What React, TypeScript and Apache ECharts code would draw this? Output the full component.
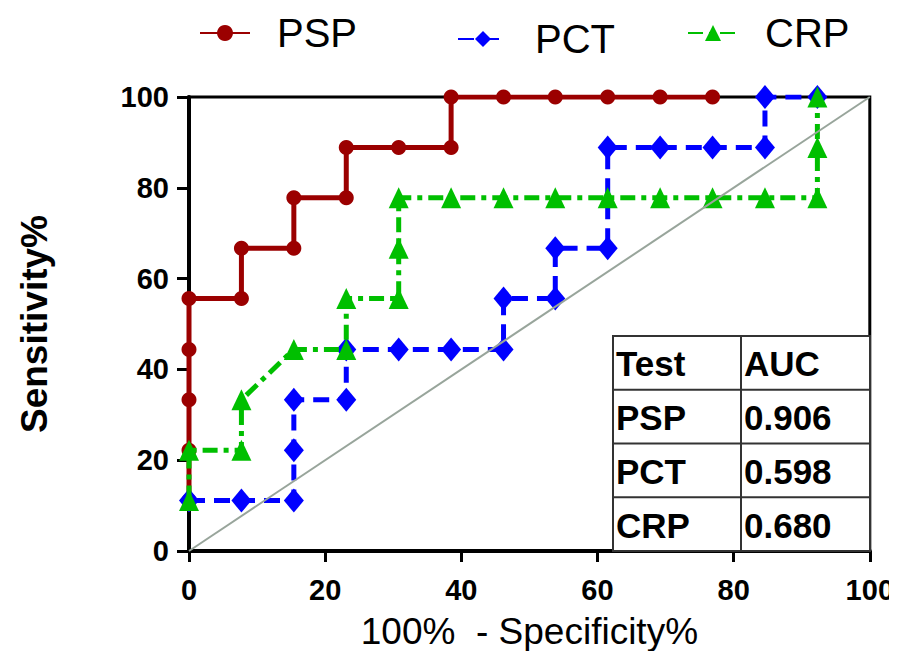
import React, { useEffect, useRef } from "react";
import * as echarts from "echarts";

// 100% - Specificity% (x) and Sensitivity% (y) for each ROC curve
const pspX = [0, 0, 0, 0, 0, 7.7, 7.7, 15.4, 15.4, 23.1, 23.1, 30.8, 38.5, 38.5, 46.2, 53.8, 61.5, 69.2, 76.9];
const pspY = [11.1, 22.2, 33.3, 44.4, 55.6, 55.6, 66.7, 66.7, 77.8, 77.8, 88.9, 88.9, 88.9, 100, 100, 100, 100, 100, 100];

const pctX = [0, 7.7, 15.4, 15.4, 15.4, 23.1, 23.1, 30.8, 38.5, 46.2, 46.2, 53.8, 53.8, 61.5, 61.5, 69.2, 76.9, 84.6, 84.6, 92.3];
const pctY = [11.1, 11.1, 11.1, 22.2, 33.3, 33.3, 44.4, 44.4, 44.4, 44.4, 55.6, 55.6, 66.7, 66.7, 88.9, 88.9, 88.9, 88.9, 100, 100];

const crpX = [0, 0, 7.7, 7.7, 15.4, 23.1, 23.1, 30.8, 30.8, 30.8, 38.5, 46.2, 53.8, 61.5, 69.2, 76.9, 84.6, 92.3, 92.3, 92.3];
const crpY = [11.1, 22.2, 22.2, 33.3, 44.4, 44.4, 55.6, 55.6, 66.7, 77.8, 77.8, 77.8, 77.8, 77.8, 77.8, 77.8, 77.8, 77.8, 88.9, 100];

const refX = [0, 100];
const refY = [0, 100];

const tableHeader = ["Test", "AUC"];
const tableTests = ["PSP", "PCT", "CRP"];
const tableAuc = ["0.906", "0.598", "0.680"];

const zip = (xs: number[], ys: number[]) => xs.map((x, i) => [x, ys[i]]);

const FONT = "'Liberation Sans', Arial, sans-serif";

export default function App() {
  const ref = useRef<HTMLDivElement>(null);
  useEffect(() => {
    if (!ref.current) return;
    const chart = echarts.init(ref.current, null, { renderer: "svg" });

    // table graphic
    const tLeft = 613, tRight = 870, tTop = 336, tBottom = 551, tCol = 741;
    const rowH = (tBottom - tTop) / 4;
    const tableEls: any[] = [];
    tableEls.push({
      type: "rect",
      shape: { x: tLeft, y: tTop, width: tRight - tLeft, height: tBottom - tTop },
      style: { fill: "#fff", stroke: "#333", lineWidth: 2 },
      z: 100,
    });
    for (let r = 1; r < 4; r++) {
      tableEls.push({
        type: "line",
        shape: { x1: tLeft, y1: tTop + r * rowH, x2: tRight, y2: tTop + r * rowH },
        style: { stroke: "#333", lineWidth: 2 },
        z: 101,
      });
    }
    tableEls.push({
      type: "line",
      shape: { x1: tCol, y1: tTop, x2: tCol, y2: tBottom },
      style: { stroke: "#333", lineWidth: 2 },
      z: 101,
    });
    const rows = [tableHeader, ...tableTests.map((t, i) => [t, tableAuc[i]])];
    rows.forEach((row, r) => {
      row.forEach((txt, c) => {
        tableEls.push({
          type: "text",
          x: (c === 0 ? tLeft : tCol) + 3,
          y: tTop + r * rowH + rowH / 2 + 1,
          style: {
            text: txt,
            fill: "#000",
            font: `bold 35px ${FONT}`,
            verticalAlign: "middle",
            align: "left",
          },
          z: 102,
        });
      });
    });

    const legendCommon = {
      itemWidth: 50,
      itemHeight: 20,
      textStyle: { fontSize: 40, fontFamily: FONT, color: "#000", lineHeight: 40, padding: [0, 0, 0, 22] },
    };

    chart.setOption({
      animation: false,
      grid: {
        left: 189,
        right: 27,
        top: 97,
        bottom: 108,
        show: true,
        borderColor: "#000",
        borderWidth: 3,
      },
      legend: [
        { ...legendCommon, data: ["PSP"], left: 194, top: 8 },
        { ...legendCommon, data: ["PCT"], left: 452, top: 14 },
        { ...legendCommon, data: ["CRP"], left: 682, top: 8 },
      ],
      xAxis: {
        type: "value",
        min: 0,
        max: 100,
        interval: 20,
        name: "100%  - Specificity%",
        nameLocation: "middle",
        nameGap: 62,
        nameTextStyle: { fontSize: 37, fontFamily: FONT, color: "#000" },
        axisLine: { show: true, lineStyle: { color: "#000", width: 4 } },
        axisTick: { show: true, length: 11, lineStyle: { color: "#000", width: 3 } },
        axisLabel: { fontSize: 29, fontWeight: "bold", fontFamily: FONT, color: "#000", margin: 24 },
        splitLine: { show: false },
      },
      yAxis: {
        type: "value",
        min: 0,
        max: 100,
        interval: 20,
        name: "Sensitivity%",
        nameLocation: "middle",
        nameGap: 136,
        nameTextStyle: { fontSize: 37, fontWeight: "bold", fontFamily: FONT, color: "#000" },
        axisLine: { show: true, lineStyle: { color: "#000", width: 4 } },
        axisTick: { show: true, length: 12, lineStyle: { color: "#000", width: 3 } },
        axisLabel: { fontSize: 29, fontWeight: "bold", fontFamily: FONT, color: "#000", margin: 20 },
        splitLine: { show: false },
      },
      graphic: tableEls,
      series: [
        {
          name: "PSP",
          type: "line",
          data: zip(pspX, pspY),
          symbol: "circle",
          symbolSize: 15,
          itemStyle: { color: "#9b0000" },
          lineStyle: { color: "#9b0000", width: 5 },
          z: 3,
        },
        {
          name: "PCT",
          type: "line",
          data: zip(pctX, pctY),
          symbol: "diamond",
          symbolSize: [20, 24],
          itemStyle: { color: "#0000ff" },
          lineStyle: { color: "#0000ff", width: 5, type: [16, 9] },
          z: 4,
        },
        {
          name: "CRP",
          type: "line",
          data: zip(crpX, crpY),
          symbol: "triangle",
          symbolSize: [20, 21],
          itemStyle: { color: "#00bf00" },
          lineStyle: { color: "#00bf00", width: 5, type: [15, 6, 5, 6] },
          z: 5,
        },
        {
          name: "ref",
          type: "line",
          data: zip(refX, refY),
          symbol: "none",
          lineStyle: { color: "#98a59b", width: 2 },
          silent: true,
          z: 6,
        },
      ],
    });
    return () => chart.dispose();
  }, []);
  return <div ref={ref} style={{ width: 897, height: 659, margin: -8 }} />;
}
